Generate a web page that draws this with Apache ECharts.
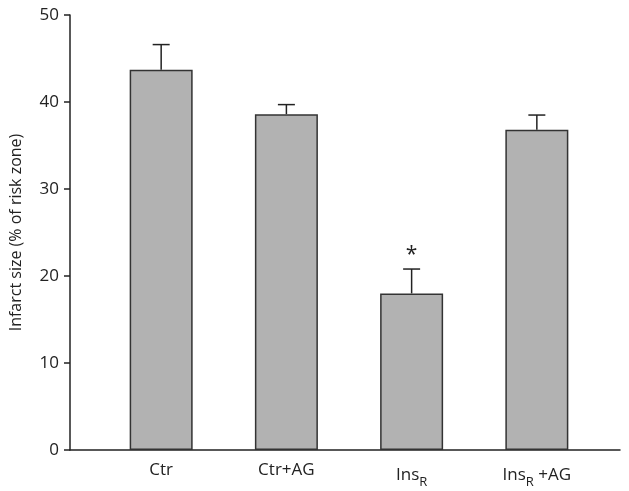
<!DOCTYPE html>
<html>
<head>
<meta charset="utf-8">
<script src="https://cdn.jsdelivr.net/npm/echarts@6/dist/echarts.min.js"></script>
<style>
  html, body { margin: 0; padding: 0; background: #fff; }
  #chart { width: 629px; height: 491px; }
</style>
</head>
<body>
<div id="chart"></div>
<script>
// categories and values
const categories = ['Ctr', 'Ctr+AG', 'Ins{sub|R}', 'Ins{sub|R} +AG']
const infarctSize = [43.7, 38.6, 18.0, 36.8]
const errorUpper = [2.9, 1.1, 2.8, 1.7]
const significant = [false, false, true, false]
const yTicks = [0, 10, 20, 30, 40, 50]

const fontFamily = '"Open Sans", "DejaVu Sans", sans-serif'
const chart = echarts.init(document.getElementById('chart'))

const barData = infarctSize.map((v, i) => [i, v])
const errData = infarctSize.map((v, i) => [i, v, v + errorUpper[i], significant[i] ? 1 : 0])

const option = {
  animation: false,
  grid: { left: 70, right: 9, top: 15, bottom: 41, outerBoundsMode: 'none', containLabel: false },
  xAxis: {
    type: 'value',
    min: -0.728,
    max: 3.664,
    splitLine: { show: false },
    axisTick: { show: false },
    axisLine: { show: true, onZero: false, lineStyle: { color: '#222', width: 1.5 } },
    axisLabel: {
      customValues: [0, 1, 2, 3],
      margin: 12,
      color: '#222',
      fontSize: 17,
      fontFamily: fontFamily,
      formatter: (v) => categories[Math.round(v)],
      rich: {
        sub: { fontSize: 13, fontFamily: fontFamily, color: '#222', padding: [14, 0, 0, 0] }
      }
    }
  },
  yAxis: {
    type: 'value',
    min: 0,
    max: 50,
    interval: 10,
    name: 'Infarct size (% of risk zone)',
    nameLocation: 'middle',
    nameGap: 46,
    nameTextStyle: { color: '#222', fontSize: 16, fontFamily: fontFamily },
    splitLine: { show: false },
    axisLine: { show: true, onZero: false, lineStyle: { color: '#222', width: 1.5 } },
    axisTick: { show: true, length: 6, lineStyle: { color: '#222', width: 1.5 } },
    axisLabel: {
      margin: 11,
      color: '#222',
      fontSize: 17,
      fontFamily: fontFamily,
      formatter: (v) => (yTicks.indexOf(v) >= 0 ? String(v) : '')
    }
  },
  series: [
    {
      type: 'bar',
      data: barData,
      barWidth: 63,
      itemStyle: { color: '#b2b2b2', borderColor: '#333', borderWidth: 1.5 }
    },
    {
      type: 'custom',
      data: errData,
      z: 5,
      renderItem: (params, api) => {
        const low = api.coord([api.value(0), api.value(1)])
        const high = api.coord([api.value(0), api.value(2)])
        const capHalf = 8.5
        const style = { stroke: '#222', lineWidth: 1.5 }
        const children = [
          { type: 'line', shape: { x1: low[0], y1: low[1], x2: high[0], y2: high[1] }, style },
          { type: 'line', shape: { x1: high[0] - capHalf, y1: high[1], x2: high[0] + capHalf, y2: high[1] }, style }
        ]
        if (api.value(3)) {
          children.push({
            type: 'text',
            x: high[0],
            y: high[1] - 14,
            style: {
              text: '*',
              fill: '#222',
              fontSize: 21,
              fontFamily: fontFamily,
              align: 'center',
              verticalAlign: 'middle'
            }
          })
        }
        return { type: 'group', children }
      }
    }
  ]
}

chart.setOption(option)
</script>
</body>
</html>
